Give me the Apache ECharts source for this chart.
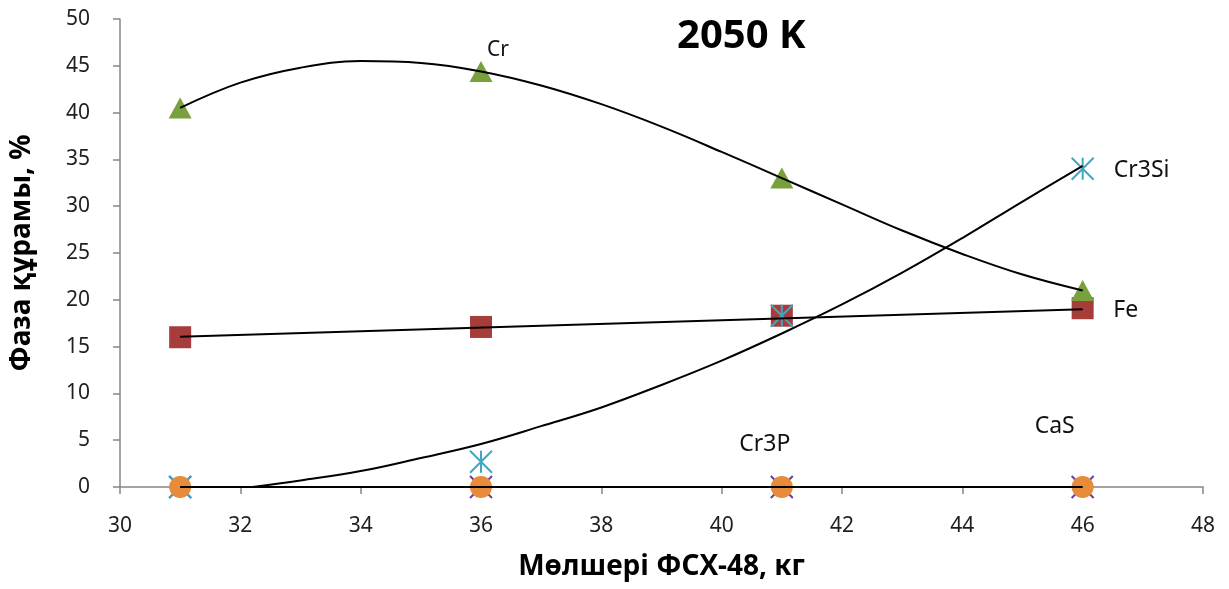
<!DOCTYPE html>
<html>
<head>
<meta charset="utf-8">
<script src="https://cdn.jsdelivr.net/npm/echarts@6/dist/echarts.min.js"></script>
<style>
  html, body { margin: 0; padding: 0; background: #fff; }
  #chart { width: 1229px; height: 589px; }
</style>
</head>
<body>
<div id="chart"></div>
<script>
// measured points
const xs = [31, 36, 41, 46]
const cr = [40.5, 44.4, 33.0, 21.0]
const fe = [16.0, 17.1, 18.3, 19.1]
const cr3si = [0, 2.7, 18.3, 34.0]
const cas = [0, 0, 0, 0]
const cr3p = [0, 0, 0, 0]

// trend lines
const crTrendX = [31, 32, 33, 34, 35, 36, 37, 38, 39, 40, 41, 42, 43, 44, 45, 46]
const crTrendY = [40.5, 43.2, 44.8, 45.5, 45.3, 44.4, 42.9, 40.9, 38.5, 35.8, 33.0, 30.2, 27.4, 24.9, 22.7, 21.0]
const siTrendX = [32.2, 33, 34, 35, 36, 37, 38, 39, 40, 41, 42, 43, 44, 45, 46]
const siTrendY = [0, 0.7, 1.7, 3.1, 4.6, 6.5, 8.5, 10.9, 13.5, 16.4, 19.5, 22.9, 26.6, 30.5, 34.3]
const feTrendX = [31, 46]
const feTrendY = [16.05, 19.0]
const zeroTrendX = [31, 46]
const zeroTrendY = [0, 0]

const FONT = '"Noto Sans", "Open Sans", sans-serif'

function pts(x, y) {
  return x.map((v, i) => [v, y[i]])
}

function tag(text, idx, offset, size) {
  return {
    show: true,
    position: 'inside',
    offset: offset,
    color: '#111',
    fontFamily: FONT,
    fontSize: size || 23,
    formatter: p => (p.dataIndex === idx ? text : '')
  }
}

function marks(name, y, symbol, size, style, label) {
  return {
    name: name,
    type: 'scatter',
    data: pts(xs, y),
    symbol: symbol,
    symbolSize: size,
    itemStyle: Object.assign({ opacity: 1 }, style),
    label: label,
    z: 2
  }
}

function trend(x, y, smooth) {
  return {
    type: 'line',
    data: pts(x, y),
    showSymbol: false,
    smooth: smooth,
    lineStyle: { color: '#000', width: 2 },
    z: 5,
    silent: true
  }
}

const chart = echarts.init(document.getElementById('chart'))

const axisStyle = { color: '#868686', width: 1.5 }

chart.setOption({
  animation: false,
  title: {
    text: '2050 K',
    left: 672,
    top: 12,
    textStyle: { fontFamily: FONT, fontWeight: 'bold', fontSize: 40, color: '#000' }
  },
  grid: { left: 120, right: 26, top: 19, bottom: 102 },
  xAxis: {
    type: 'value',
    min: 30,
    max: 48,
    interval: 2,
    name: 'Мөлшері ФСХ-48, кг',
    nameLocation: 'middle',
    nameGap: 66,
    nameTextStyle: { fontFamily: FONT, fontWeight: 'bold', fontSize: 28, color: '#000' },
    axisLine: { lineStyle: axisStyle },
    axisTick: { length: 7, lineStyle: axisStyle },
    splitLine: { show: false },
    axisLabel: { margin: 29, fontFamily: FONT, fontSize: 21, color: '#1f1f1f' }
  },
  yAxis: {
    type: 'value',
    min: 0,
    max: 50,
    interval: 5,
    name: 'Фаза құрамы, %',
    nameLocation: 'middle',
    nameGap: 84,
    nameTextStyle: { fontFamily: FONT, fontWeight: 'bold', fontSize: 28, color: '#000' },
    axisLine: { show: true, lineStyle: axisStyle },
    axisTick: { show: true, length: 7, lineStyle: axisStyle },
    splitLine: { show: false },
    axisLabel: { margin: 30, fontFamily: FONT, fontSize: 21, color: '#1f1f1f' }
  },
  series: [
    marks('Fe', fe, 'rect', 22, { color: '#A63D3B' }, tag('Fe', 3, [43, 2])),
    marks('Cr', cr, 'triangle', [23, 21], { color: '#78A03C' }, tag('Cr', 1, [17, -21], 21)),
    marks('CaS', cas, 'path://M0,0L20,20M20,0L0,20', 22,
      { color: 'transparent', borderColor: '#6A3D9A', borderWidth: 2 }, tag('CaS', 3, [-28, -61])),
    marks('Cr3Si', cr3si, 'path://M10,0L10,20M0,0L20,20M20,0L0,20', 22,
      { color: 'transparent', borderColor: '#3FA7C4', borderWidth: 2 }, tag('Cr3Si', 3, [59, 2])),
    marks('Cr3P', cr3p, 'circle', 22, { color: '#E88B3A' }, tag('Cr3P', 2, [-17, -43])),
    trend(crTrendX, crTrendY, 0.4),
    trend(siTrendX, siTrendY, 0.4),
    trend(feTrendX, feTrendY, false),
    trend(zeroTrendX, zeroTrendY, false)
  ]
})

window.addEventListener('resize', () => {
  chart.resize()
})
</script>
</body>
</html>
